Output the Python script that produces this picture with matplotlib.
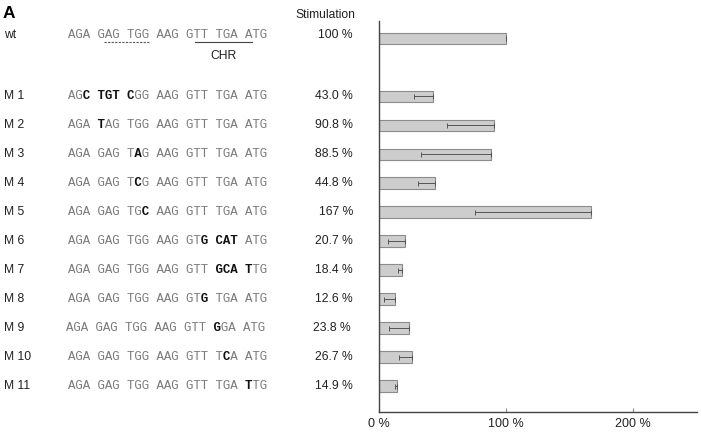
import matplotlib.pyplot as plt
import matplotlib.transforms as mtransforms
import numpy as np

# rows of the figure (wt, then a gap, then the mutants)
labels = ['wt', 'M 1', 'M 2', 'M 3', 'M 4', 'M 5', 'M 6', 'M 7', 'M 8', 'M 9', 'M 10', 'M 11']
# lower case = mutated base (drawn bold, upper case)
seqs = ['AGA GAG TGG AAG GTT TGA ATG',
        'AGc tgt cGG AAG GTT TGA ATG',
        'AGA tAG TGG AAG GTT TGA ATG',
        'AGA GAG TaG AAG GTT TGA ATG',
        'AGA GAG TcG AAG GTT TGA ATG',
        'AGA GAG TGc AAG GTT TGA ATG',
        'AGA GAG TGG AAG GTg cat ATG',
        'AGA GAG TGG AAG GTT gca tTG',
        'AGA GAG TGG AAG GTg TGA ATG',
        'AGA GAG TGG AAG GTT gGA ATG',
        'AGA GAG TGG AAG GTT TcA ATG',
        'AGA GAG TGG AAG GTT TGA tTG']
stim = [100, 43.0, 90.8, 88.5, 44.8, 167, 20.7, 18.4, 12.6, 23.8, 26.7, 14.9]
stim_text = ['100 %', '43.0 %', '90.8 %', '88.5 %', '44.8 %', '167 %', '20.7 %',
             '18.4 %', '12.6 %', '23.8 %', '26.7 %', '14.9 %']
err_low = [0, 14.7, 36.6, 55.2, 14.1, 91.5, 13.6, 3.1, 7.9, 15.2, 10.4, 2.0]
xticks = [0, 100, 200]
xticklabels = ['0 %', '100 %', '200 %']

W, H = 701, 434
fig = plt.figure(figsize=(W / 100, H / 100), dpi=100)
ax = fig.add_axes([378.5 / W, 1 - 412.3 / H, (696.5 - 378.5) / W, (412.3 - 21) / H])

rows = np.array([0] + list(range(2, len(labels) + 1)))

ax.barh(rows, stim, height=0.4, color='#cdcdcd', edgecolor='#8c8c8c', linewidth=0.8,
        xerr=[err_low, np.zeros(len(stim))],
        error_kw=dict(ecolor='#555555', elinewidth=0.7, capsize=1.8, capthick=0.7))

ax.set_xlim(0, 250)
ax.set_ylim(12.91, -0.604)
ax.set_yticks([])
ax.set_xticks(xticks)
ax.set_xticklabels(xticklabels, fontsize=9, family='Liberation Sans', color='#222222')
ax.tick_params(axis='x', direction='in', length=3, color='#888888', pad=4)
for s in ['top', 'right']:
    ax.spines[s].set_visible(False)
for s in ['left', 'bottom']:
    ax.spines[s].set_color('#444444')
    ax.spines[s].set_linewidth(1.0)

# x in figure pixels, y in row units
tr = mtransforms.blended_transform_factory(
    mtransforms.Affine2D().scale(1 / W, 1) + fig.transFigure, ax.transData)

sans = dict(family='Liberation Sans', fontsize=8.7, color='#222222')
mono_size = 8.9
cw = 200 / 27  # char width in px

for r, lab, seq, txt in zip(rows, labels, seqs, stim_text):
    y = r - 0.13 if lab == 'wt' else r
    fig.text(4, y, lab, transform=tr, va='center', ha='left', **sans)
    x0 = 65.7 if lab == 'M 9' else 68
    normal = ''.join(c if (c.isupper() or c == ' ') else ' ' for c in seq)
    bold = ''.join(c.upper() if c.islower() else ' ' for c in seq)
    fig.text(x0, y, normal, transform=tr, va='center', ha='left',
             family='Liberation Mono', fontsize=mono_size, color='#7a7a7a')
    fig.text(x0, y, bold, transform=tr, va='center', ha='left',
             family='Liberation Mono', fontsize=mono_size, color='#111111', fontweight='bold')
    xr = 351 if lab == 'M 9' else 353
    fig.text(xr, y, txt, transform=tr, va='center', ha='right', **sans)

# wt annotations
fig.add_artist(plt.Line2D([68 + 4.8 * cw, 68 + 10.9 * cw], [0.13, 0.13], transform=tr,
                          color='#555555', lw=0.8, ls=(0, (2, 1.2))))
fig.add_artist(plt.Line2D([68 + 17.1 * cw, 68 + 24.9 * cw], [0.13, 0.13], transform=tr,
                          color='#444444', lw=0.8))
fig.text(223.3, 0.59, 'CHR', transform=tr, va='center', ha='center', **sans)

fig.text(355, -0.81, 'Stimulation', transform=tr, va='center', ha='right', **sans)
fig.text(3, -0.875, 'A', transform=tr, va='center', ha='left', family='Liberation Sans',
         fontsize=12.5, fontweight='bold', color='black')

fig.savefig('out.png', dpi=100)
